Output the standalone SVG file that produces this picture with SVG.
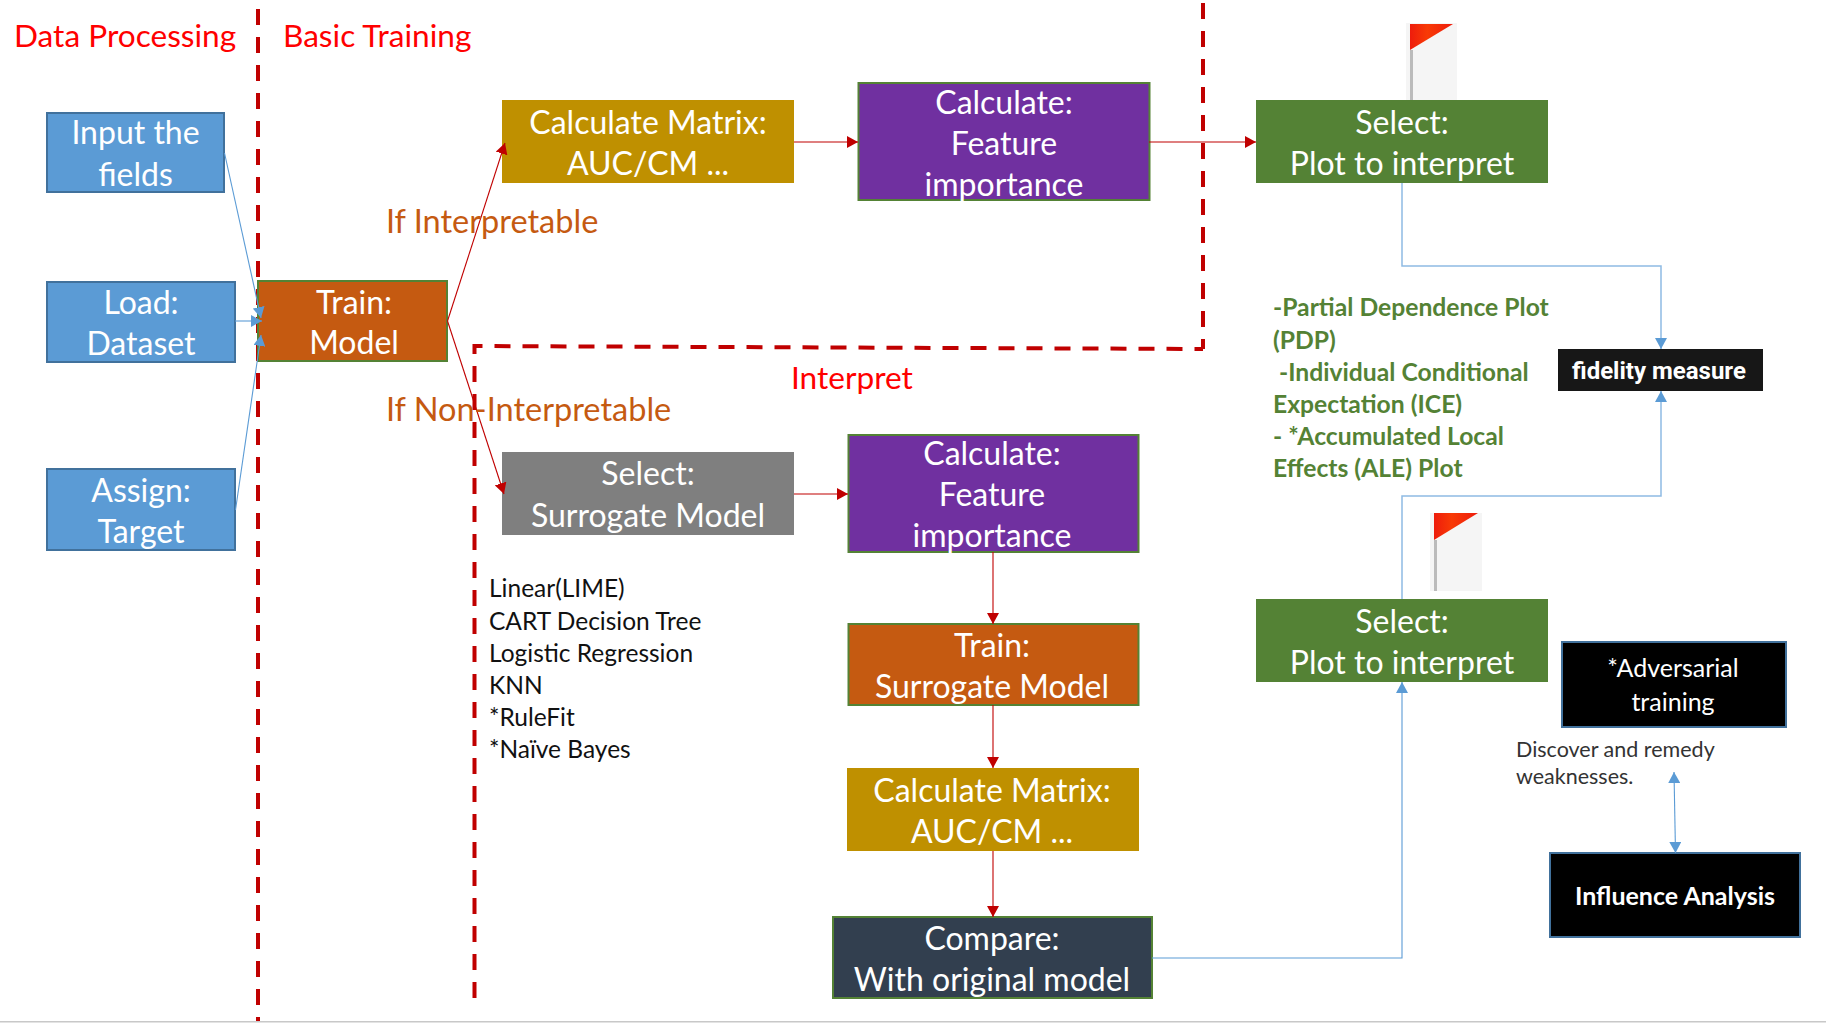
<svg xmlns="http://www.w3.org/2000/svg" width="1826" height="1036" viewBox="0 0 1826 1036">
<style>
text{font-family:"Lato","Carlito","Noto Sans",sans-serif}
.b{font-size:32px;fill:#fff;text-anchor:middle}
.h{font-size:31.600px;fill:#f00}
.o{font-size:32.500px;fill:#c55a11}
.g{font-size:24.700px;fill:#548235;font-weight:700}
.l{font-size:24.500px;fill:#111}
.dash{fill:none;stroke:#c00000;stroke-width:4;stroke-dasharray:16 12}
.red{fill:none;stroke:#c00000;stroke-width:1.1;marker-end:url(#ar)}
.blue{fill:none;stroke:#5b9bd5;stroke-width:1.1;marker-end:url(#ab)}
.pale{fill:none;stroke:#8fbbe3;stroke-width:1.5}
.bs{stroke:#41719c;stroke-width:2}
.gs{stroke:#548235;stroke-width:2}
.s{font-size:25px}
</style>
<defs>
<marker id="ar" markerUnits="userSpaceOnUse" markerWidth="12" markerHeight="12" refX="11" refY="6" orient="auto"><path d="M0 0L11 6L0 12z" fill="#c00000"/></marker>
<marker id="ab" markerUnits="userSpaceOnUse" markerWidth="12" markerHeight="12" refX="11" refY="6" orient="auto-start-reverse"><path d="M0 0L11 6L0 12z" fill="#5b9bd5"/></marker>
<linearGradient id="fg" x1="0" x2="1" y1="0" y2="0"><stop offset="0" stop-color="#ee1c0c"/><stop offset=".4" stop-color="#f83a06"/><stop offset="1" stop-color="#ee1c0c"/></linearGradient>
</defs>
<rect width="1826" height="1036" fill="#fff"/>
<rect x="0" y="1021" width="1826" height="1.500" fill="#c8c8c8"/>

<g id="boundaries">
<path class="dash" d="M258 9V1021"/>
<path class="dash" d="M474.500 998V346L1203 349"/>
<path class="dash" d="M1203 349V0" stroke-dashoffset="6"/>
</g>

<g id="flag-1"><rect x="1406" y="23" width="51" height="78" fill="#f5f5f5"/><rect x="1410" y="50" width="3" height="50" fill="#bbb"/><path d="M1410 24H1453L1410 50z" fill="url(#fg)"/></g>
<g id="flag-2"><rect x="1430" y="513" width="52" height="78" fill="#f5f5f5"/><rect x="1434" y="540" width="3" height="51" fill="#bbb"/><path d="M1434 513H1478L1434 540z" fill="url(#fg)"/></g>

<g id="input"><rect class="bs" x="47" y="113" width="177" height="79" fill="#5b9bd5"/><text class="b" x="135.500" y="144">Input the</text><text class="b" x="135.500" y="186">fields</text></g>
<g id="load"><rect class="bs" x="47" y="282" width="188" height="80" fill="#5b9bd5"/><text class="b" x="141" y="314">Load:</text><text class="b" x="141" y="355">Dataset</text></g>
<g id="assign"><rect class="bs" x="47" y="469" width="188" height="81" fill="#5b9bd5"/><text class="b" x="141" y="502">Assign:</text><text class="b" x="141" y="543">Target</text></g>
<g id="train-model"><rect class="gs" x="258" y="281" width="189" height="80" fill="#c55a11"/><text class="b" x="354" y="314">Train:</text><text class="b" x="354" y="354">Model</text></g>
<g id="calc-matrix-1"><rect x="502" y="100" width="292" height="83" fill="#bf9000"/><text class="b" x="648" y="134">Calculate Matrix:</text><text class="b" x="648" y="175">AUC/CM ...</text></g>
<g id="feature-1"><rect class="gs" x="858.500" y="83" width="291" height="117" fill="#7030a0"/><text class="b" x="1004" y="114">Calculate:</text><text class="b" x="1004" y="155">Feature</text><text class="b" x="1004" y="196">importance</text></g>
<g id="select-plot-1"><rect x="1256" y="100" width="292" height="83" fill="#548235"/><text class="b" x="1402" y="134">Select:</text><text class="b" x="1402" y="175">Plot to interpret</text></g>
<g id="fidelity"><rect x="1558" y="349" width="205" height="42" fill="#171717"/><text x="1572" y="379" font-size="24" font-weight="700" fill="#fff" style="font-family:Roboto,sans-serif">fidelity measure</text></g>
<g id="select-surrogate"><rect x="502" y="452" width="292" height="83" fill="#7f7f7f"/><text class="b" x="648" y="485">Select:</text><text class="b" x="648" y="527">Surrogate Model</text></g>
<g id="feature-2"><rect class="gs" x="848.500" y="435" width="290" height="117" fill="#7030a0"/><text class="b" x="992" y="465">Calculate:</text><text class="b" x="992" y="506">Feature</text><text class="b" x="992" y="547">importance</text></g>
<g id="train-surrogate"><rect class="gs" x="848.500" y="624" width="290" height="81" fill="#c55a11"/><text class="b" x="992" y="657">Train:</text><text class="b" x="992" y="698">Surrogate Model</text></g>
<g id="calc-matrix-2"><rect x="847" y="768" width="292" height="83" fill="#bf9000"/><text class="b" x="992" y="802">Calculate Matrix:</text><text class="b" x="992" y="843">AUC/CM ...</text></g>
<g id="compare"><rect class="gs" x="833" y="917" width="319" height="81" fill="#323f4f"/><text class="b" x="992" y="950">Compare:</text><text class="b" x="992" y="991">With original model</text></g>
<g id="select-plot-2"><rect x="1256" y="599" width="292" height="83" fill="#548235"/><text class="b" x="1402" y="633">Select:</text><text class="b" x="1402" y="674">Plot to interpret</text></g>
<g id="adversarial"><rect x="1562" y="642" width="224" height="85" fill="#000" stroke="#41719c" stroke-width="2"/><text class="b s" x="1673" y="677">*Adversarial</text><text class="b s" x="1673" y="711">training</text></g>
<g id="influence"><rect x="1550" y="853" width="250" height="84" fill="#000" stroke="#41719c" stroke-width="2"/><text class="b s" style="font-weight:700" x="1675" y="905">Influence Analysis</text></g>

<g id="connectors">
<path class="blue" d="M224.500 153L261 318"/>
<path class="blue" d="M235 321H262"/>
<path class="blue" d="M235.500 510L261 335"/>
<path class="red" d="M447.500 321L505 143"/>
<path class="red" d="M447.500 321L504 494"/>
<path class="red" d="M794 142H858"/>
<path class="red" d="M1149 142H1256"/>
<path class="red" d="M794 494H848"/>
<path class="red" d="M993 552V624"/>
<path class="red" d="M993 705V768"/>
<path class="red" d="M993 851V917"/>
<path class="pale" d="M1402 183V266H1661V340"/>
<path class="blue" d="M1661 338V349"/>
<path class="pale" d="M1402 599V496H1661V400"/>
<path class="blue" d="M1661 402V391"/>
<path class="blue" d="M1152 958H1402V682"/>
<path class="blue" marker-start="url(#ab)" d="M1674 772L1675.500 853"/>
</g>

<g id="labels">
<text class="h" x="14" y="47">Data Processing</text>
<text class="h" x="283" y="47">Basic Training</text>
<text class="h" x="791" y="389">Interpret</text>
<text class="o" x="386" y="233">If Interpretable</text>
<text class="o" x="386" y="421">If Non-Interpretable</text>
<text class="g" x="1273" y="315.500">-Partial Dependence Plot</text>
<text class="g" x="1273" y="348.500">(PDP)</text>
<text class="g" x="1279" y="380.500">-Individual Conditional</text>
<text class="g" x="1273" y="412.500">Expectation (ICE)</text>
<text class="g" x="1273" y="444.500">- *Accumulated Local</text>
<text class="g" x="1273" y="476.500">Effects (ALE) Plot</text>
<text class="l" x="489" y="597">Linear(LIME)</text>
<text class="l" x="489" y="629.500">CART Decision Tree</text>
<text class="l" x="489" y="661.500">Logistic Regression</text>
<text class="l" x="489" y="693.500">KNN</text>
<text class="l" x="489" y="725.500">*RuleFit</text>
<text class="l" x="489" y="757.500">*Naïve Bayes</text>
<text x="1516" y="757" font-size="21.500" fill="#333">Discover and remedy</text>
<text x="1516" y="784" font-size="21.500" fill="#333">weaknesses.</text>
</g>
</svg>
